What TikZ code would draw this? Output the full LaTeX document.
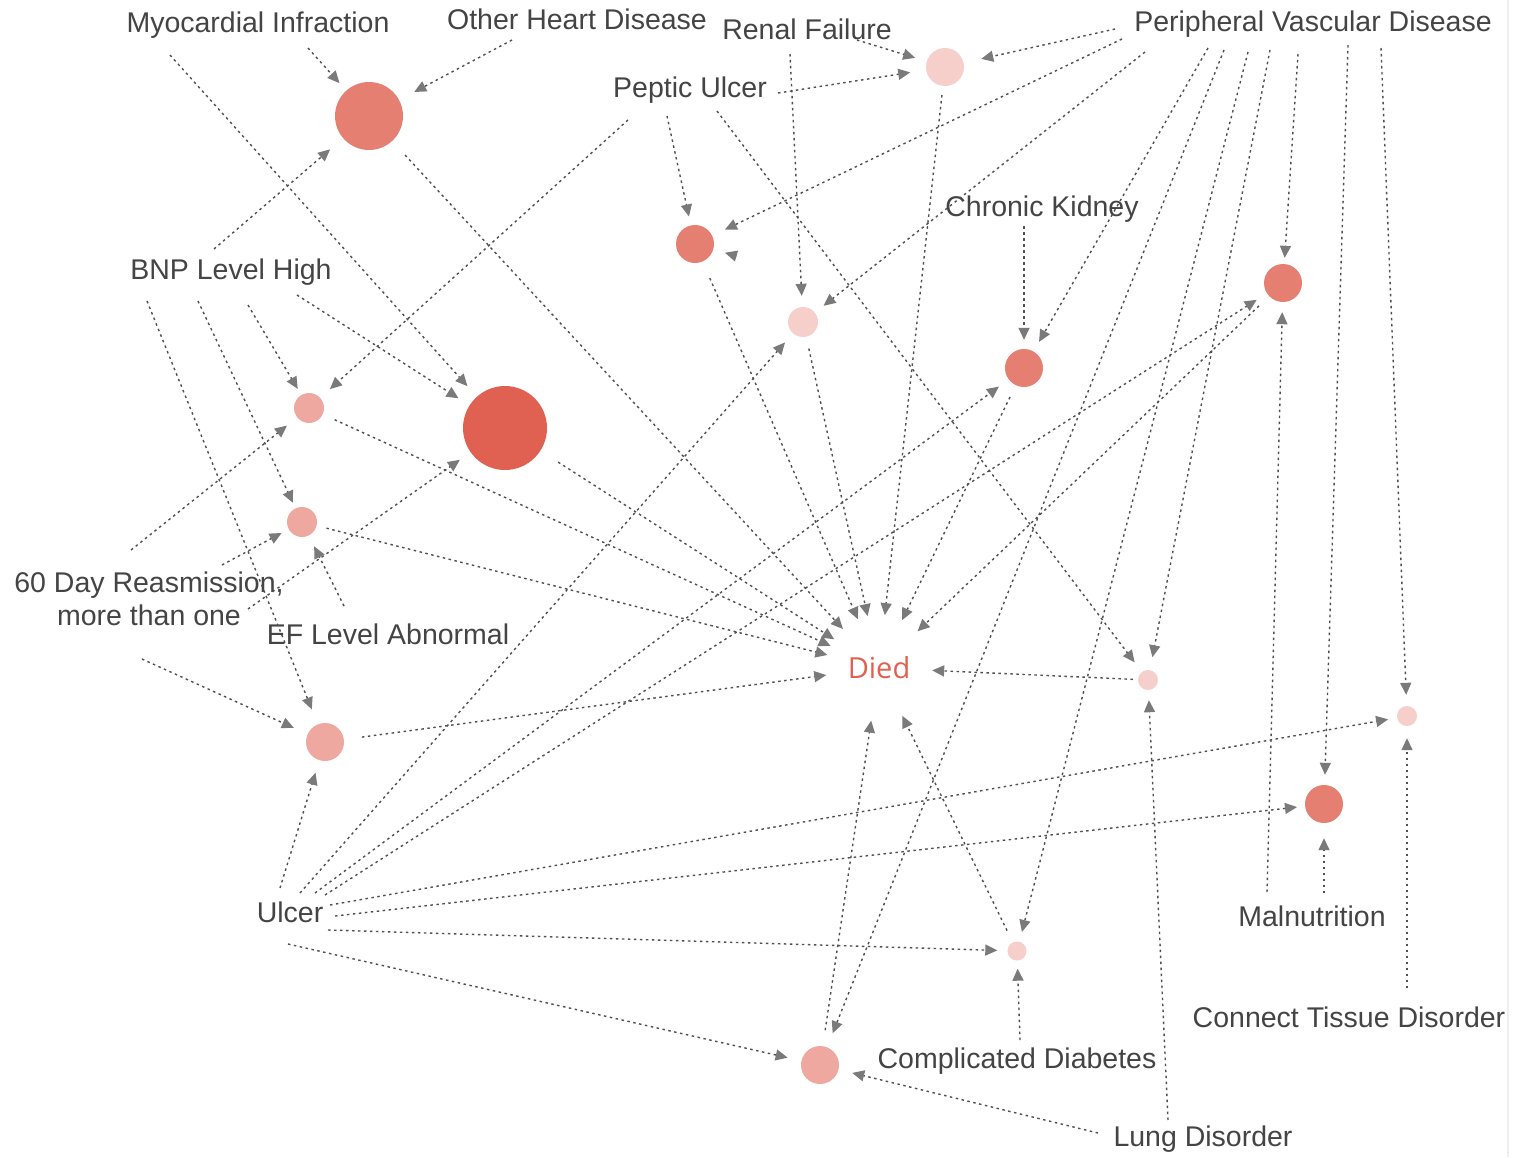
\documentclass[tikz,border=0pt]{standalone}
\usepackage{fontspec}
\setmainfont{Liberation Sans}
\newfontfamily\diedfont{Open Sans}
\usetikzlibrary{arrows.meta}

\definecolor{txt}{HTML}{444444}
\definecolor{lnk}{HTML}{505050}
\definecolor{tipc}{HTML}{7A7A7A}
\definecolor{dkred}{HTML}{E06152}
\definecolor{mdred}{HTML}{E57F72}
\definecolor{pkred}{HTML}{EFA8A0}
\definecolor{ltred}{HTML}{F6CFCA}
\definecolor{edgegray}{HTML}{EEEEEE}

\tikzset{
  lbl/.style={anchor=base, text=txt, font=\fontsize{28.5}{33}\selectfont, inner sep=0pt},
  dot/.style={circle, inner sep=0pt, minimum size=#1, draw=none},
  edge/.style={draw=lnk, line width=1.4pt, dash pattern=on 2.5pt off 3.5pt,
    -{Triangle[length=12pt,width=11pt,color=tipc]}},
}

\begin{document}
\begin{tikzpicture}[x=1pt,y=-1pt]
\useasboundingbox (0,0) rectangle (1514,1157);
\fill[white] (0,0) rectangle (1514,1157);
\draw[edgegray, line width=1.5pt] (1508,0) -- (1508,1157);

% outcome node
\node[circle, minimum size=96pt, inner sep=0pt, text=dkred,
      font=\diedfont\fontsize{29}{33}\selectfont] (died) at (879,668) {Died};

% value circles
\node[dot=68pt, fill=mdred] (c1) at (369,116) {};
\node[dot=84pt, fill=dkred] (c2) at (505,428) {};
\node[dot=38pt, fill=ltred] (c3) at (945,67) {};
\node[dot=38pt, fill=mdred] (c4) at (695,244) {};
\node[dot=30pt, fill=ltred] (c5) at (803,322) {};
\node[dot=38pt, fill=mdred] (c6) at (1024,368) {};
\node[dot=38pt, fill=mdred] (c7) at (1283,283) {};
\node[dot=30pt, fill=pkred] (c8) at (309,408) {};
\node[dot=30pt, fill=pkred] (c9) at (302,522) {};
\node[dot=38pt, fill=pkred] (c10) at (325,742) {};
\node[dot=20pt, fill=ltred] (c11) at (1148,680) {};
\node[dot=20pt, fill=ltred] (c12) at (1407,716) {};
\node[dot=38pt, fill=mdred] (c13) at (1324,804) {};
\node[dot=19pt, fill=ltred] (c14) at (1017,951) {};
\node[dot=38pt, fill=pkred] (c15) at (820,1065) {};

% variable labels
\node[lbl] (mi) at (258,32) {Myocardial Infraction};
\node[lbl] (ohd) at (577,29) {Other Heart Disease};
\node[lbl] (rf) at (807,39) {Renal Failure};
\node[lbl] (pu) at (690,97) {Peptic Ulcer};
\node[lbl] (pvd) at (1313,31) {Peripheral Vascular Disease};
\node[lbl] (ck) at (1042,216) {Chronic Kidney};
\node[lbl] (bnp) at (231,279) {BNP Level High};
\node[lbl, align=center] (dr) at (149,625) {60 Day Reasmission,\\more than one};
\node[lbl] (ef) at (388,644) {EF Level Abnormal};
\node[lbl] (ul) at (290,922) {Ulcer};
\node[lbl] (mn) at (1312,926) {Malnutrition};
\node[lbl] (ctd) at (1349,1027) {Connect Tissue Disorder};
\node[lbl] (cd) at (1017,1068) {Complicated Diabetes};
\node[lbl] (ld) at (1203,1146) {Lung Disorder};

% where each link leaves its label
\coordinate (mi1) at (308,48);   \coordinate (mi2) at (170,55);
\coordinate (ohd1) at (512,40);
\coordinate (pvd1) at (1115,29); \coordinate (pvd2) at (1122,39);
\coordinate (pvd3) at (1145,52); \coordinate (pvd4) at (1208,48);
\coordinate (pvd5) at (1224,50); \coordinate (pvd6) at (1248,52);
\coordinate (pvd7) at (1270,50); \coordinate (pvd8) at (1298,54);
\coordinate (pvd9) at (1348,45); \coordinate (pvd10) at (1381,48);
\coordinate (rf1) at (857,40);   \coordinate (rf2) at (790,54);
\coordinate (pu1) at (778,93);   \coordinate (pu2) at (667,116);
\coordinate (pu3) at (717,111);  \coordinate (pu4) at (628,120);
\coordinate (ck1) at (1024,226);
\coordinate (bnp1) at (214,249); \coordinate (bnp2) at (297,295);
\coordinate (bnp3) at (248,305); \coordinate (bnp4) at (198,301);
\coordinate (bnp5) at (147,301);
\coordinate (dr1) at (131,550);  \coordinate (dr2) at (222,565);
\coordinate (dr3) at (248,609);  \coordinate (dr4) at (142,659);
\coordinate (ef1) at (344,606);
\coordinate (ul1) at (280,888);  \coordinate (ul2) at (300,893);
\coordinate (ul3) at (315,893);  \coordinate (ul4) at (325,895);
\coordinate (ul5) at (330,905);  \coordinate (ul6) at (335,916);
\coordinate (ul7) at (328,930);  \coordinate (ul8) at (288,944);
\coordinate (mn1) at (1267,892); \coordinate (mn2) at (1324,893);
\coordinate (ctd1) at (1407,988);
\coordinate (cd1) at (1020,1040);
\coordinate (ld1) at (1168,1120); \coordinate (ld2) at (1098,1133);
\coordinate (c4x) at (736.3,256.0);

% label -> value links (source / target / gap before target)
\foreach \s/\t/\g in {
  mi1/c1/10, ohd1/c1/17, bnp1/c1/17,
  mi2/c2/14, bnp2/c2/13, dr3/c2/13,
  pvd1/c3/18, rf1/c3/12, pu1/c3/16,
  pvd2/c4/14, pu2/c4/9, c4x/c4/12,
  pvd3/c5/11, rf2/c5/11, ul2/c5/12,
  ck1/c6/9, pvd4/c6/11, ul3/c6/12,
  pvd8/c7/6, ul4/c7/12, mn1/c7/10,
  bnp3/c8/7, pu4/c8/13, dr1/c8/13,
  bnp4/c9/6, dr2/c9/8, ef1/c9/12,
  bnp5/c10/16, dr4/c10/15, ul1/c10/13,
  pu3/c11/12, pvd7/c11/13, ld1/c11/10,
  pvd10/c12/11, ul5/c12/9, ctd1/c12/12,
  pvd9/c13/10, ul6/c13/8, mn2/c13/15,
  pvd6/c14/10, ul7/c14/10, cd1/c14/8,
  pvd5/c15/15, ul8/c15/14, ld2/c15/14}
  \draw[edge, shorten >=\g pt] (\s) -- (\t);

% value -> outcome links (source / gap after source)
\foreach \s/\g in {c1/19, c2/21, c8/13, c9/10, c10/18, c4/18, c5/12,
                   c3/9, c6/13, c7/14, c11/5, c15/16, c14/13}
  \draw[edge, shorten <=\g pt, shorten >=5pt] (\s) -- (died);
\end{tikzpicture}
\end{document}
